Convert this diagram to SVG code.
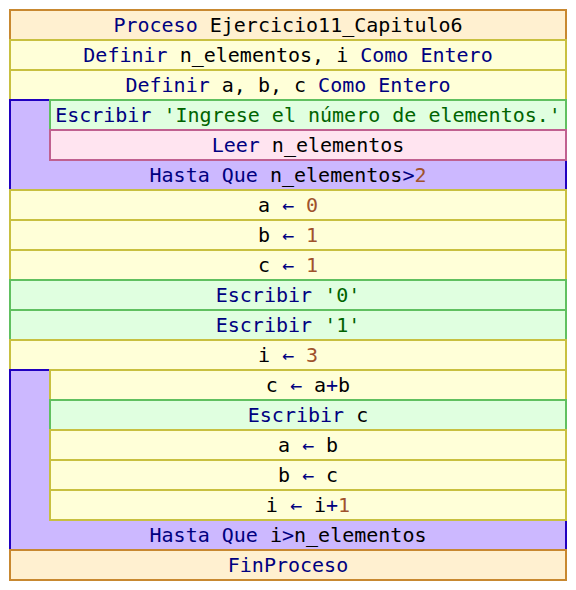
<svg xmlns="http://www.w3.org/2000/svg" width="576" height="590" viewBox="0 0 576 590">
<style>
text{font-family:"DejaVu Sans Mono","Liberation Mono",monospace;font-size:20px;text-anchor:middle;fill:#000}
.k{fill:#000080}.s{fill:#006400}.n{fill:#a0522d}
.proc{fill:#fff0d0;stroke:#c88830;stroke-width:2}
.asg{fill:#ffffd8;stroke:#c8c040;stroke-width:2}
.out{fill:#e0ffe0;stroke:#60c060;stroke-width:2}
.inp{fill:#ffe4f0;stroke:#c06090;stroke-width:2}
.rep{fill:#ccb8ff;stroke:#2000c0;stroke-width:2}
</style>
<rect width="576" height="590" fill="#fff"/>
<g id="proceso"><rect class="proc" x="10" y="10" width="556" height="30"/><text x="288" y="32"><tspan class="k">Proceso</tspan> Ejercicio11_Capitulo6</text></g>
<g id="def1"><rect class="asg" x="10" y="40" width="556" height="30"/><text x="288" y="62"><tspan class="k">Definir</tspan> n_elementos, i <tspan class="k">Como Entero</tspan></text></g>
<g id="def2"><rect class="asg" x="10" y="70" width="556" height="30"/><text x="288" y="92"><tspan class="k">Definir</tspan> a, b, c <tspan class="k">Como Entero</tspan></text></g>
<g id="repetir1">
<rect class="rep" x="10" y="100" width="556" height="90"/>
<g id="escribir1"><rect class="out" x="50" y="100" width="516" height="30"/><text x="308" y="122"><tspan class="k">Escribir</tspan> <tspan class="s">'Ingrese el número de elementos.'</tspan></text></g>
<g id="leer1"><rect class="inp" x="50" y="130" width="516" height="30"/><text x="308" y="152"><tspan class="k">Leer</tspan> n_elementos</text></g>
<text x="288" y="182"><tspan class="k">Hasta Que</tspan> n_elementos<tspan class="k">&gt;</tspan><tspan class="n">2</tspan></text>
</g>
<g id="asig_a"><rect class="asg" x="10" y="190" width="556" height="30"/><text x="288" y="212">a <tspan class="k">←</tspan> <tspan class="n">0</tspan></text></g>
<g id="asig_b"><rect class="asg" x="10" y="220" width="556" height="30"/><text x="288" y="242">b <tspan class="k">←</tspan> <tspan class="n">1</tspan></text></g>
<g id="asig_c"><rect class="asg" x="10" y="250" width="556" height="30"/><text x="288" y="272">c <tspan class="k">←</tspan> <tspan class="n">1</tspan></text></g>
<g id="escribir0"><rect class="out" x="10" y="280" width="556" height="30"/><text x="288" y="302"><tspan class="k">Escribir</tspan> <tspan class="s">'0'</tspan></text></g>
<g id="escribir1b"><rect class="out" x="10" y="310" width="556" height="30"/><text x="288" y="332"><tspan class="k">Escribir</tspan> <tspan class="s">'1'</tspan></text></g>
<g id="asig_i"><rect class="asg" x="10" y="340" width="556" height="30"/><text x="288" y="362">i <tspan class="k">←</tspan> <tspan class="n">3</tspan></text></g>
<g id="repetir2">
<rect class="rep" x="10" y="370" width="556" height="180"/>
<g id="asig_c2"><rect class="asg" x="50" y="370" width="516" height="30"/><text x="308" y="392">c <tspan class="k">←</tspan> a<tspan class="k">+</tspan>b</text></g>
<g id="escribir_c"><rect class="out" x="50" y="400" width="516" height="30"/><text x="308" y="422"><tspan class="k">Escribir</tspan> c</text></g>
<g id="asig_a2"><rect class="asg" x="50" y="430" width="516" height="30"/><text x="308" y="452">a <tspan class="k">←</tspan> b</text></g>
<g id="asig_b2"><rect class="asg" x="50" y="460" width="516" height="30"/><text x="308" y="482">b <tspan class="k">←</tspan> c</text></g>
<g id="asig_i2"><rect class="asg" x="50" y="490" width="516" height="30"/><text x="308" y="512">i <tspan class="k">←</tspan> i<tspan class="k">+</tspan><tspan class="n">1</tspan></text></g>
<text x="288" y="542"><tspan class="k">Hasta Que</tspan> i<tspan class="k">&gt;</tspan>n_elementos</text>
</g>
<g id="finproceso"><rect class="proc" x="10" y="550" width="556" height="30"/><text x="288" y="572"><tspan class="k">FinProceso</tspan></text></g>
<g id="connectors"></g>
</svg>
